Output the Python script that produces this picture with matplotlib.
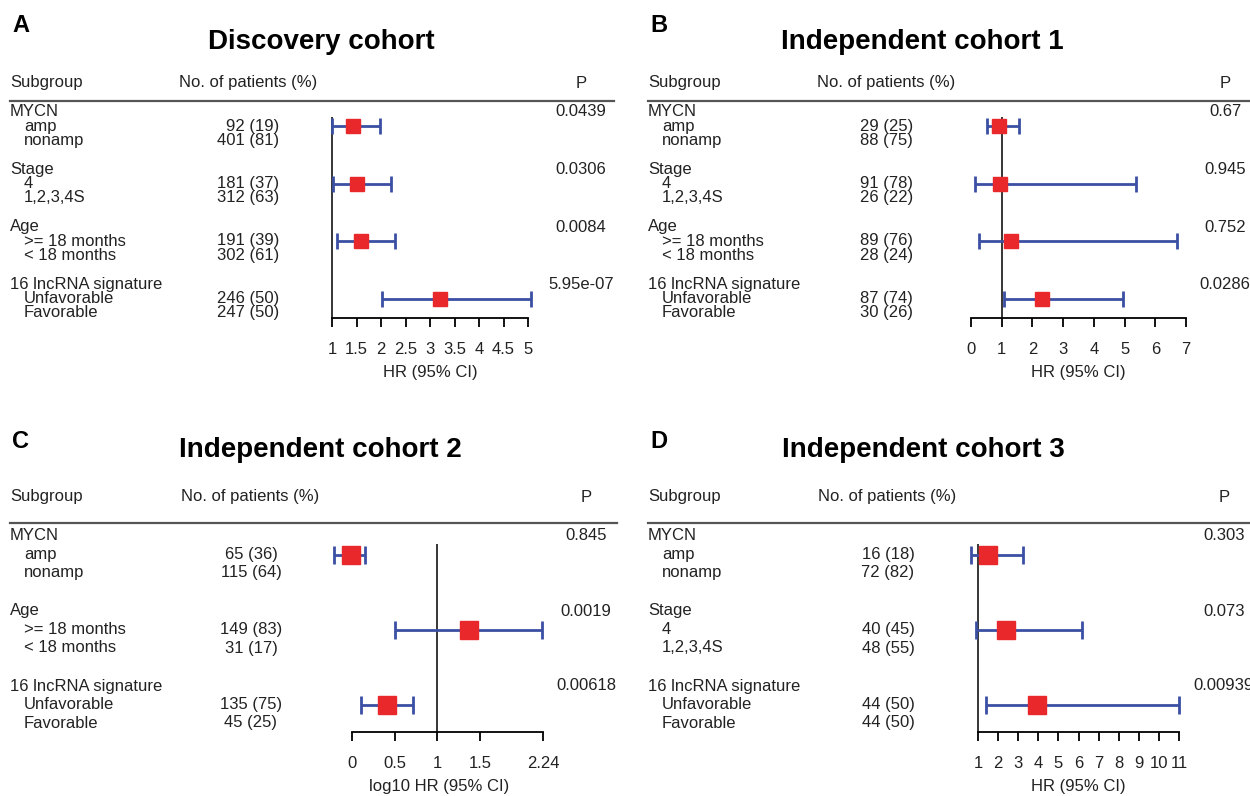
import numpy as np
import matplotlib
matplotlib.use("Agg")
import matplotlib.pyplot as plt

plt.rcParams['font.family'] = ['Liberation Sans', 'DejaVu Sans']

W, H = 1250, 796
BLUE = '#3b4fa3'
RED = '#e8282b'
TXT = '#222222'

# ---- data ----
a_groups = ["MYCN", "Stage", "Age", "16 lncRNA signature"]
a_levels = [["amp", "nonamp"], ["4", "1,2,3,4S"], [">= 18 months", "< 18 months"], ["Unfavorable", "Favorable"]]
a_counts = [["92 (19)", "401 (81)"], ["181 (37)", "312 (63)"], ["191 (39)", "302 (61)"], ["246 (50)", "247 (50)"]]
a_hr = [1.42, 1.51, 1.60, 3.21]
a_lo = [1.00, 1.02, 1.11, 2.02]
a_hi = [1.97, 2.20, 2.28, 5.06]
a_p = ["0.0439", "0.0306", "0.0084", "5.95e-07"]

b_groups = ["MYCN", "Stage", "Age", "16 lncRNA signature"]
b_levels = [["amp", "nonamp"], ["4", "1,2,3,4S"], [">= 18 months", "< 18 months"], ["Unfavorable", "Favorable"]]
b_counts = [["29 (25)", "88 (75)"], ["91 (78)", "26 (22)"], ["89 (76)", "28 (24)"], ["87 (74)", "30 (26)"]]
b_hr = [0.90, 0.95, 1.30, 2.32]
b_lo = [0.52, 0.14, 0.25, 1.06]
b_hi = [1.55, 5.37, 6.70, 4.96]
b_p = ["0.67", "0.945", "0.752", "0.0286"]

c_groups = ["MYCN", "Age", "16 lncRNA signature"]
c_levels = [["amp", "nonamp"], [">= 18 months", "< 18 months"], ["Unfavorable", "Favorable"]]
c_counts = [["65 (36)", "115 (64)"], ["149 (83)", "31 (17)"], ["135 (75)", "45 (25)"]]
c_hr = [-0.01, 1.37, 0.41]
c_lo = [-0.21, 0.50, 0.11]
c_hi = [0.155, 2.234, 0.71]
c_p = ["0.845", "0.0019", "0.00618"]

d_groups = ["MYCN", "Stage", "16 lncRNA signature"]
d_levels = [["amp", "nonamp"], ["4", "1,2,3,4S"], ["Unfavorable", "Favorable"]]
d_counts = [["16 (18)", "72 (82)"], ["40 (45)", "48 (55)"], ["44 (50)", "44 (50)"]]
d_hr = [1.50, 2.39, 3.94]
d_lo = [0.66, 0.92, 1.40]
d_hi = [3.23, 6.17, 10.98]
d_p = ["0.303", "0.073", "0.00939"]

a_ticks = [1, 1.5, 2, 2.5, 3, 3.5, 4, 4.5, 5]
b_ticks = [0, 1, 2, 3, 4, 5, 6, 7]
c_ticks = [0, 0.5, 1, 1.5, 2.24]
d_ticks = [1, 2, 3, 4, 5, 6, 7, 8, 9, 10, 11]


def ftxt(fig, x, y, s, **kw):
    kw.setdefault('fontsize', 12)
    kw.setdefault('color', TXT)
    kw.setdefault('va', 'center')
    fig.text(x / W, 1 - y / H, s, **kw)


def panel(fig, letter, title, groups, levels, counts, hr, lo, hi, pvals,
          ticks, xlabel, lay):
    x0 = lay['x0']
    ftxt(fig, x0 + 2, lay['letter_y'], letter, fontsize=17, fontweight='bold', color='black')
    ftxt(fig, lay['title_x'], lay['title_y'], title, fontsize=20, fontweight='bold',
         color='black', ha='center')
    ftxt(fig, x0, lay['head_y'], "Subgroup")
    ftxt(fig, lay['nop_x'], lay['head_y'], "No. of patients (%)")
    ftxt(fig, lay['p_x'], lay['head_y'], "P", ha='center')
    fig.add_artist(plt.Line2D([x0 / W, lay['line_x1'] / W],
                              [1 - lay['line_y'] / H] * 2,
                              color='#555555', lw=1.6))

    gy = lay['group_y'] + lay['group_step'] * np.arange(len(groups))
    ci_y = gy + lay['row_step']
    for i, g in enumerate(groups):
        ftxt(fig, x0, gy[i], g)
        ftxt(fig, lay['p_x'], gy[i], pvals[i], ha='center')
        for j in range(2):
            ftxt(fig, x0 + 14, gy[i] + lay['row_step'] * (j + 1), levels[i][j])
            ftxt(fig, lay['count_x'], gy[i] + lay['row_step'] * (j + 1), counts[i][j],
                 ha=lay['count_ha'])

    # forest axes, y in pixel units
    t_lo, t_hi = ticks[0], ticks[-1]
    px_lo, px_hi = lay['px_lo'], lay['px_hi']
    scale = (px_hi - px_lo) / (t_hi - t_lo)
    ax_l, ax_r = px_lo - 40, px_hi + 15
    axis_y, top_y = lay['axis_y'], lay['line_y'] + 5
    ax = fig.add_axes([ax_l / W, 1 - axis_y / H, (ax_r - ax_l) / W, (axis_y - top_y) / H])
    ax.set_xlim(t_lo - 40 / scale, t_hi + 15 / scale)
    ax.set_ylim(axis_y, top_y)
    ax.patch.set_alpha(0)
    for s in ['left', 'right', 'top']:
        ax.spines[s].set_visible(False)
    ax.spines['bottom'].set_bounds(t_lo, t_hi)
    ax.spines['bottom'].set_linewidth(1.3)
    ax.set_yticks([])
    ax.set_xticks(ticks)
    ax.set_xticklabels([f"{t:g}" for t in ticks])
    ax.tick_params(axis='x', direction='out', length=6.5, width=1.3, pad=11,
                   labelsize=12, labelcolor=TXT)

    hr = np.array(hr)
    ax.vlines(1, lay['ref_top'], axis_y, color='black', lw=1.1, zorder=1)
    ax.errorbar(hr, ci_y, xerr=[hr - np.array(lo), np.array(hi) - hr], fmt='none',
                ecolor=BLUE, elinewidth=2, capsize=lay['cap'], capthick=2,
                zorder=2, clip_on=False)
    ax.plot(hr, ci_y, 's', color=RED, mec=RED, ms=lay['box'], zorder=3, clip_on=False)
    ftxt(fig, lay['xlab_x'], lay['xlab_y'], xlabel, ha='center')


fig = plt.figure(figsize=(W / 100, H / 100), dpi=100)

top = dict(letter_y=26, title_y=42, head_y=83, line_y=101, group_y=112,
           group_step=57.5, row_step=14, axis_y=318, ref_top=117,
           xlab_y=372, cap=5.5, box=10.5, count_ha='right')
bot = dict(letter_y=441, title_y=450, head_y=497, line_y=523, group_y=536,
           group_step=75, row_step=18.5, axis_y=732, ref_top=544,
           xlab_y=787, cap=6.5, box=13.5, count_ha='center')

lay_a = dict(top, x0=10, title_x=321, nop_x=179, count_x=279, p_x=581, line_x1=614,
             px_lo=332, px_hi=528, xlab_x=430)
lay_b = dict(top, x0=648, title_x=922, nop_x=817, count_x=913, p_x=1225, line_x1=1250,
             px_lo=971, px_hi=1186, xlab_x=1078)
lay_c = dict(bot, x0=10, title_x=320, nop_x=181, count_x=251, p_x=586, line_x1=617,
             px_lo=352, px_hi=543, xlab_x=439)
lay_d = dict(bot, x0=648, title_x=923, nop_x=818, count_x=888, p_x=1224, line_x1=1250,
             px_lo=978, px_hi=1179, xlab_x=1078)

panel(fig, "A", "Discovery cohort", a_groups, a_levels, a_counts, a_hr, a_lo, a_hi, a_p,
      a_ticks, "HR (95% CI)", lay_a)
panel(fig, "B", "Independent cohort 1", b_groups, b_levels, b_counts, b_hr, b_lo, b_hi, b_p,
      b_ticks, "HR (95% CI)", lay_b)
panel(fig, "C", "Independent cohort 2", c_groups, c_levels, c_counts, c_hr, c_lo, c_hi, c_p,
      c_ticks, "log10 HR (95% CI)", lay_c)
panel(fig, "D", "Independent cohort 3", d_groups, d_levels, d_counts, d_hr, d_lo, d_hi, d_p,
      d_ticks, "HR (95% CI)", lay_d)

fig.savefig("out.png", dpi=100)
